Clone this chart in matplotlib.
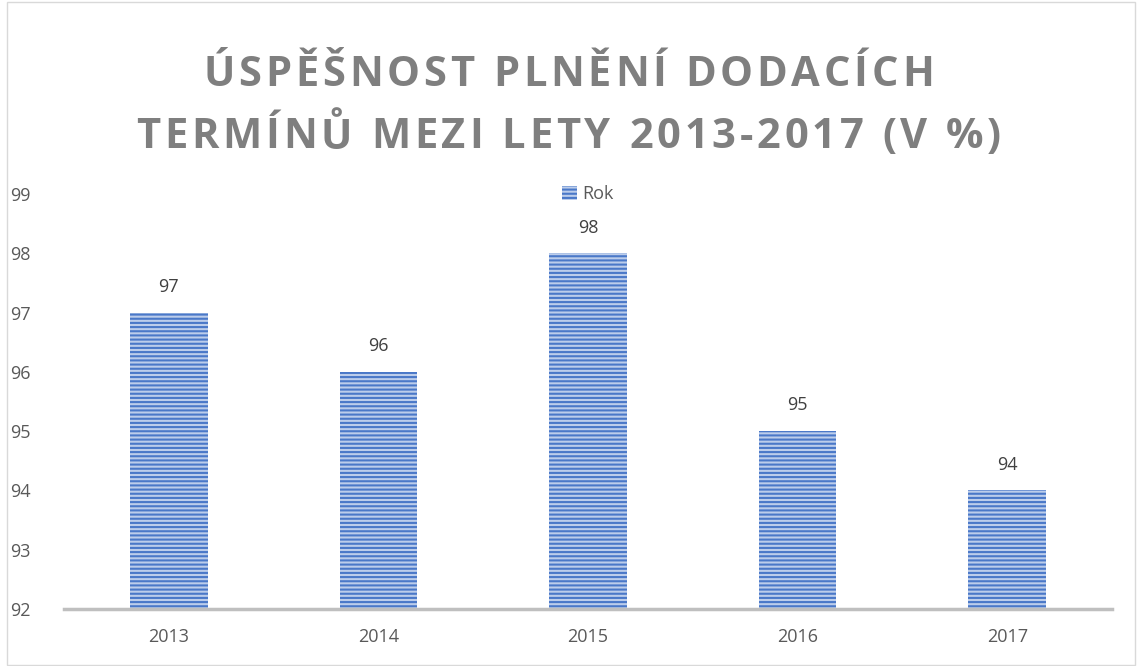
import matplotlib
matplotlib.use("Agg")
from matplotlib import pyplot as plt
from matplotlib.patches import Rectangle

years = ["2013", "2014", "2015", "2016", "2017"]
success = [97, 96, 98, 95, 94]
series_name = "Rok"
title_lines = ["ÚSPĚŠNOST PLNĚNÍ DODACÍCH", "TERMÍNŮ MEZI LETY 2013-2017 (V %)"]

plt.rcParams['font.family'] = ['Open Sans', 'DejaVu Sans']
plt.rcParams['hatch.linewidth'] = 1.5

W, H = 1137, 666
fig = plt.figure(figsize=(W/100, H/100), dpi=100)
ax = fig.add_axes([64/W, 1 - 609/H, (1112-64)/W, (609-194)/H])

x = range(len(years))
# hatch '----' -> about 24 stripes per inch, like the striped fill in the original
bars = ax.bar(x, [v - 92 for v in success], bottom=92, width=0.37,
              facecolor='#bccdeb', edgecolor='#4a78c8', linewidth=0,
              hatch='----', label=series_name)

for xi, v in zip(x, success):
    ax.annotate(str(v), (xi, v), xytext=(0, 12), textcoords='offset points',
                ha='center', va='bottom', fontsize=13, color='#404040')

ax.set_ylim(92, 99)
ax.set_xlim(-0.5, len(years) - 0.5)
ax.set_xticks(list(x))
ax.set_xticklabels(years)
ax.set_yticks(range(92, 100))
ax.tick_params(axis='both', length=0, labelsize=13, labelcolor='#595959')
ax.tick_params(axis='x', pad=14)
ax.tick_params(axis='y', pad=24)
for s in ['top', 'right', 'left']:
    ax.spines[s].set_visible(False)
ax.spines['bottom'].set_color('#bfbfbf')
ax.spines['bottom'].set_linewidth(2.5)

ax.legend(loc='upper center', bbox_to_anchor=(0.5, 1.06), frameon=False,
          fontsize=13, labelcolor='#595959', handlelength=0.8,
          handleheight=0.8, handletextpad=0.3)

# title with extra letter spacing, placed char by char
renderer = fig.canvas.get_renderer()
tracking = 3.8  # px between letters
for line, yc in zip(title_lines, [75, 138]):
    chars = []
    widths = []
    for ch in line:
        t = fig.text(0, 0, ch if ch != ' ' else '\u00a0', fontsize=30,
                     fontweight='bold', color='#7f7f7f', va='center',
                     ha='left', transform=None)
        w = t.get_window_extent(renderer).width
        if ch == ' ':
            w = 0.27 * 30 * 100 / 72
        chars.append(t)
        widths.append(w)
    total = sum(widths) + tracking * (len(line) - 1)
    xpos = (W - total) / 2
    for t, w in zip(chars, widths):
        t.set_position((xpos, H - yc))
        xpos += w + tracking

fig.patches.append(Rectangle((7/W, 0.002), 1 - 9/W, 0.995,
                             transform=fig.transFigure, fill=False,
                             edgecolor='#d9d9d9', linewidth=1))

fig.savefig("out.png", dpi=100)
